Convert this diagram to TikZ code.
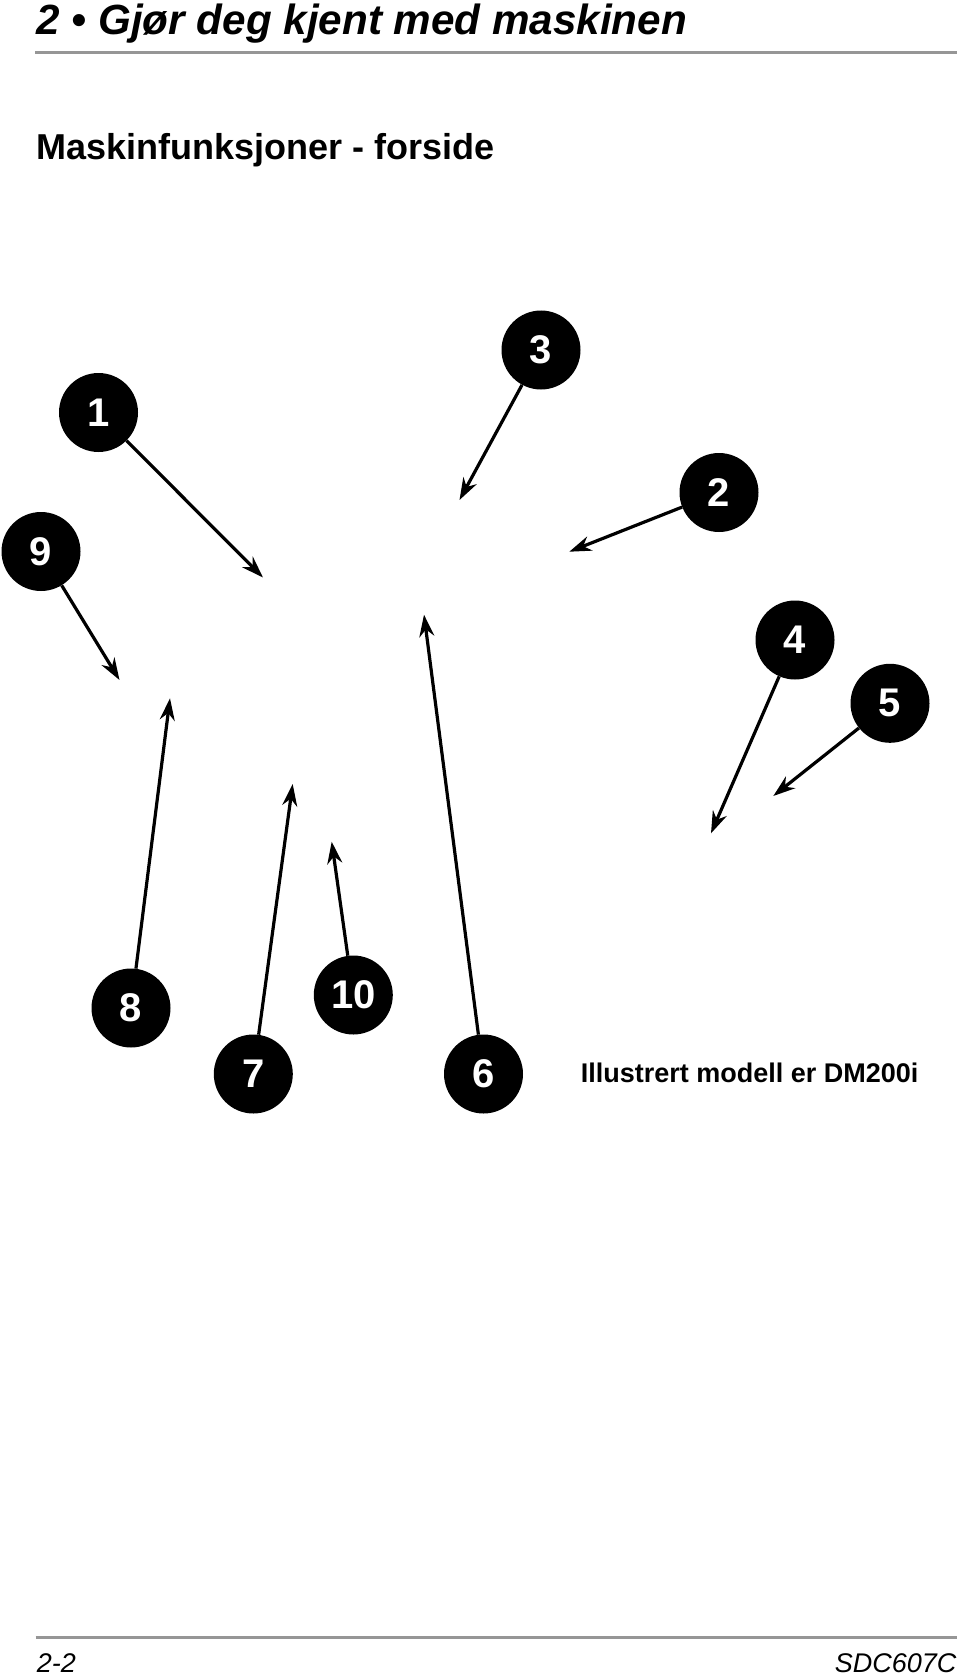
\documentclass[tikz,border=0pt]{standalone}
\usepackage{fontspec}
\setmainfont{Liberation Sans}
\usepackage{tikz}
\usetikzlibrary{arrows.meta}
\usepackage{xcolor}
\definecolor{rulegray}{RGB}{150,150,150}

\begin{document}
\begin{tikzpicture}[x=1pt, y=-1pt,
  callout/.style={circle, fill=black, minimum size=79pt, inner sep=0pt, text=white,
    font=\fontsize{40}{40}\selectfont\bfseries},
  pointer/.style={-{Stealth[length=22pt, width=15pt]}, line width=3.2pt},
  pagerule/.style={rulegray, line width=2.8pt}]
  \useasboundingbox (0,0) rectangle (960,1677);

  % page head
  \node[anchor=base west, inner sep=0pt, font=\fontsize{42.2}{42.2}\selectfont\bfseries\itshape] (head) at (36.5,34.3) {2 • Gjør deg kjent med maskinen};
  \draw[pagerule] (35,52.7) -- (956.7,52.7);
  \node[anchor=base west, inner sep=0pt, font=\fontsize{36}{36}\selectfont\bfseries] (sub) at (36.7,159.3) {Maskinfunksjoner - forside};

  % numbered callouts
  \node[callout] (c1) at (98.5,412.5) {1};
  \node[callout] (c2) at (719,492.5) {2};
  \node[callout] (c3) at (541,350) {3};
  \node[callout] (c4) at (795,640) {4};
  \node[callout] (c5) at (890,703.3) {5};
  \node[callout] (c6) at (483.5,1074) {6};
  \node[callout] (c7) at (253.3,1074) {7};
  \node[callout] (c8) at (131,1008) {8};
  \node[callout] (c9) at (41,551.5) {9};
  \node[callout] (c10) at (353.3,995) {10};

  % arrow tips
  \coordinate (p1) at (263,577.5);
  \coordinate (p2) at (569.3,551.7);
  \coordinate (p3) at (459.5,500);
  \coordinate (p4) at (711,833.3);
  \coordinate (p5) at (773.3,796);
  \coordinate (p6) at (424,614.7);
  \coordinate (p7) at (292.7,784);
  \coordinate (p8) at (170,698.3);
  \coordinate (p9) at (119.5,680);
  \coordinate (p10) at (331.7,841.7);

  \foreach \i in {1,...,10}
    \draw[pointer] (c\i) -- (p\i);

  \node[anchor=base west, inner sep=0pt, font=\fontsize{27}{27}\selectfont\bfseries] (model) at (580.7,1082) {Illustrert modell er DM200i};

  % page foot
  \draw[pagerule] (35.7,1637.7) -- (956.7,1637.7);
  \node[anchor=base west, inner sep=0pt, font=\fontsize{27}{27}\selectfont\itshape] (page) at (36.7,1672.3) {2-2};
  \node[anchor=base east, inner sep=0pt, font=\fontsize{27}{27}\selectfont\itshape] (doc) at (956.7,1672.3) {SDC607C};
\end{tikzpicture}
\end{document}
